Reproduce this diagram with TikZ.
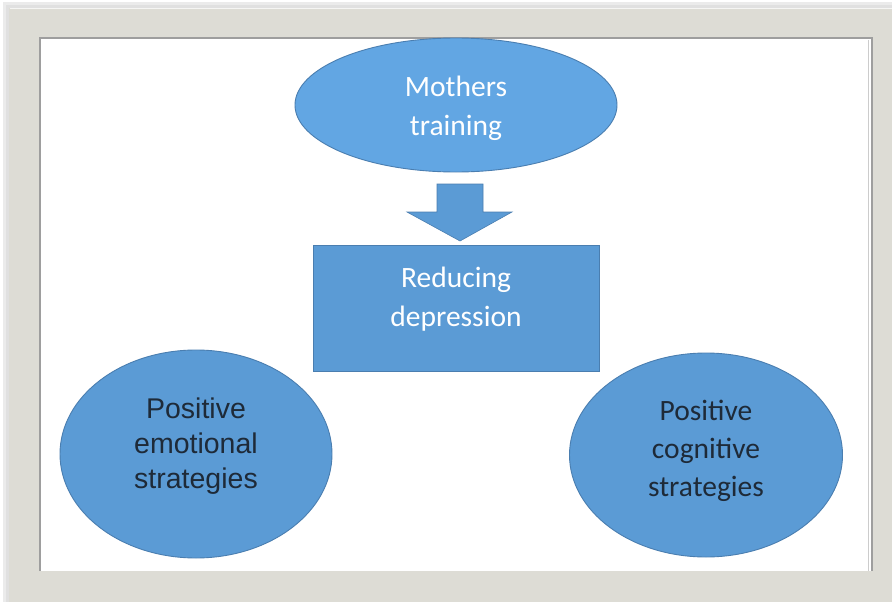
\documentclass[tikz,border=0pt]{standalone}
\usepackage{fontspec}
\setmainfont{Carlito}
\newfontfamily\arialfont{Liberation Sans}
\usetikzlibrary{shapes.geometric}
\definecolor{frameC}{HTML}{DDDCD5}
\definecolor{blueF}{HTML}{5B9BD5}
\definecolor{blueTop}{HTML}{62A6E3}
\definecolor{blueEdge}{HTML}{4A7EB0}
\definecolor{darkTxt}{HTML}{1E2A38}
\tikzset{
  blueshape/.style={fill=blueF, draw=blueEdge, line width=0.9pt},
  oval/.style={blueshape, ellipse, inner sep=0pt},
  whitetxt/.style={text=white, align=center, font=\fontsize{29.5}{39}\selectfont},
  darktxt/.style={text=darkTxt, align=center, font=\fontsize{29.5}{38}\selectfont},
}
\begin{document}
\begin{tikzpicture}[x=1pt,y=-1pt]
\useasboundingbox (0,0) rectangle (892,602);
% page background and shadow
\fill[white] (0,0) rectangle (892,602);
\fill[black!8] (3,2) rectangle (892,602);
\fill[black!12] (6,5) rectangle (892,602);
% frame
\fill[frameC] (9,8) rectangle (892,602);
\draw[white!70!frameC, line width=1pt] (9.5,8.5) -- (892,8.5);
\fill[white] (40,38) rectangle (872,571);
\draw[black!38, line width=1.2pt] (40,571) -- (40,38) -- (872,38) -- (872,571);
\draw[black!20, line width=1pt] (868,40) -- (868,571);
% shapes
\node[oval, fill=blueTop, minimum width=322, minimum height=134] (mt) at (456,105) {};
\node[blueshape, rectangle, minimum width=286, minimum height=126, inner sep=0pt] (rd) at (456,308) {};
\node[oval, minimum width=272, minimum height=208] (pe) at (196,454) {};
\node[oval, minimum width=273, minimum height=204] (pc) at (706,455) {};
% block arrow
\fill[blueF, draw=blueEdge, line width=0.6pt]
  (437,184) -- (483,184) -- (483,212) -- (512,212) -- (460,241) -- (407,212) -- (437,212) -- cycle;
% texts
\node[whitetxt] (tmt) at (456,108) {Mothers\\training};
\node[whitetxt] (trd) at (456,299) {Reducing\\depression};
\node[darktxt, font=\arialfont\fontsize{28.5}{35}\selectfont] (tpe) at (196,446) {Positive\\emotional\\strategies};
\node[darktxt] (tpc) at (706,451) {Positive\\cognitive\\strategies};
\end{tikzpicture}
\end{document}
